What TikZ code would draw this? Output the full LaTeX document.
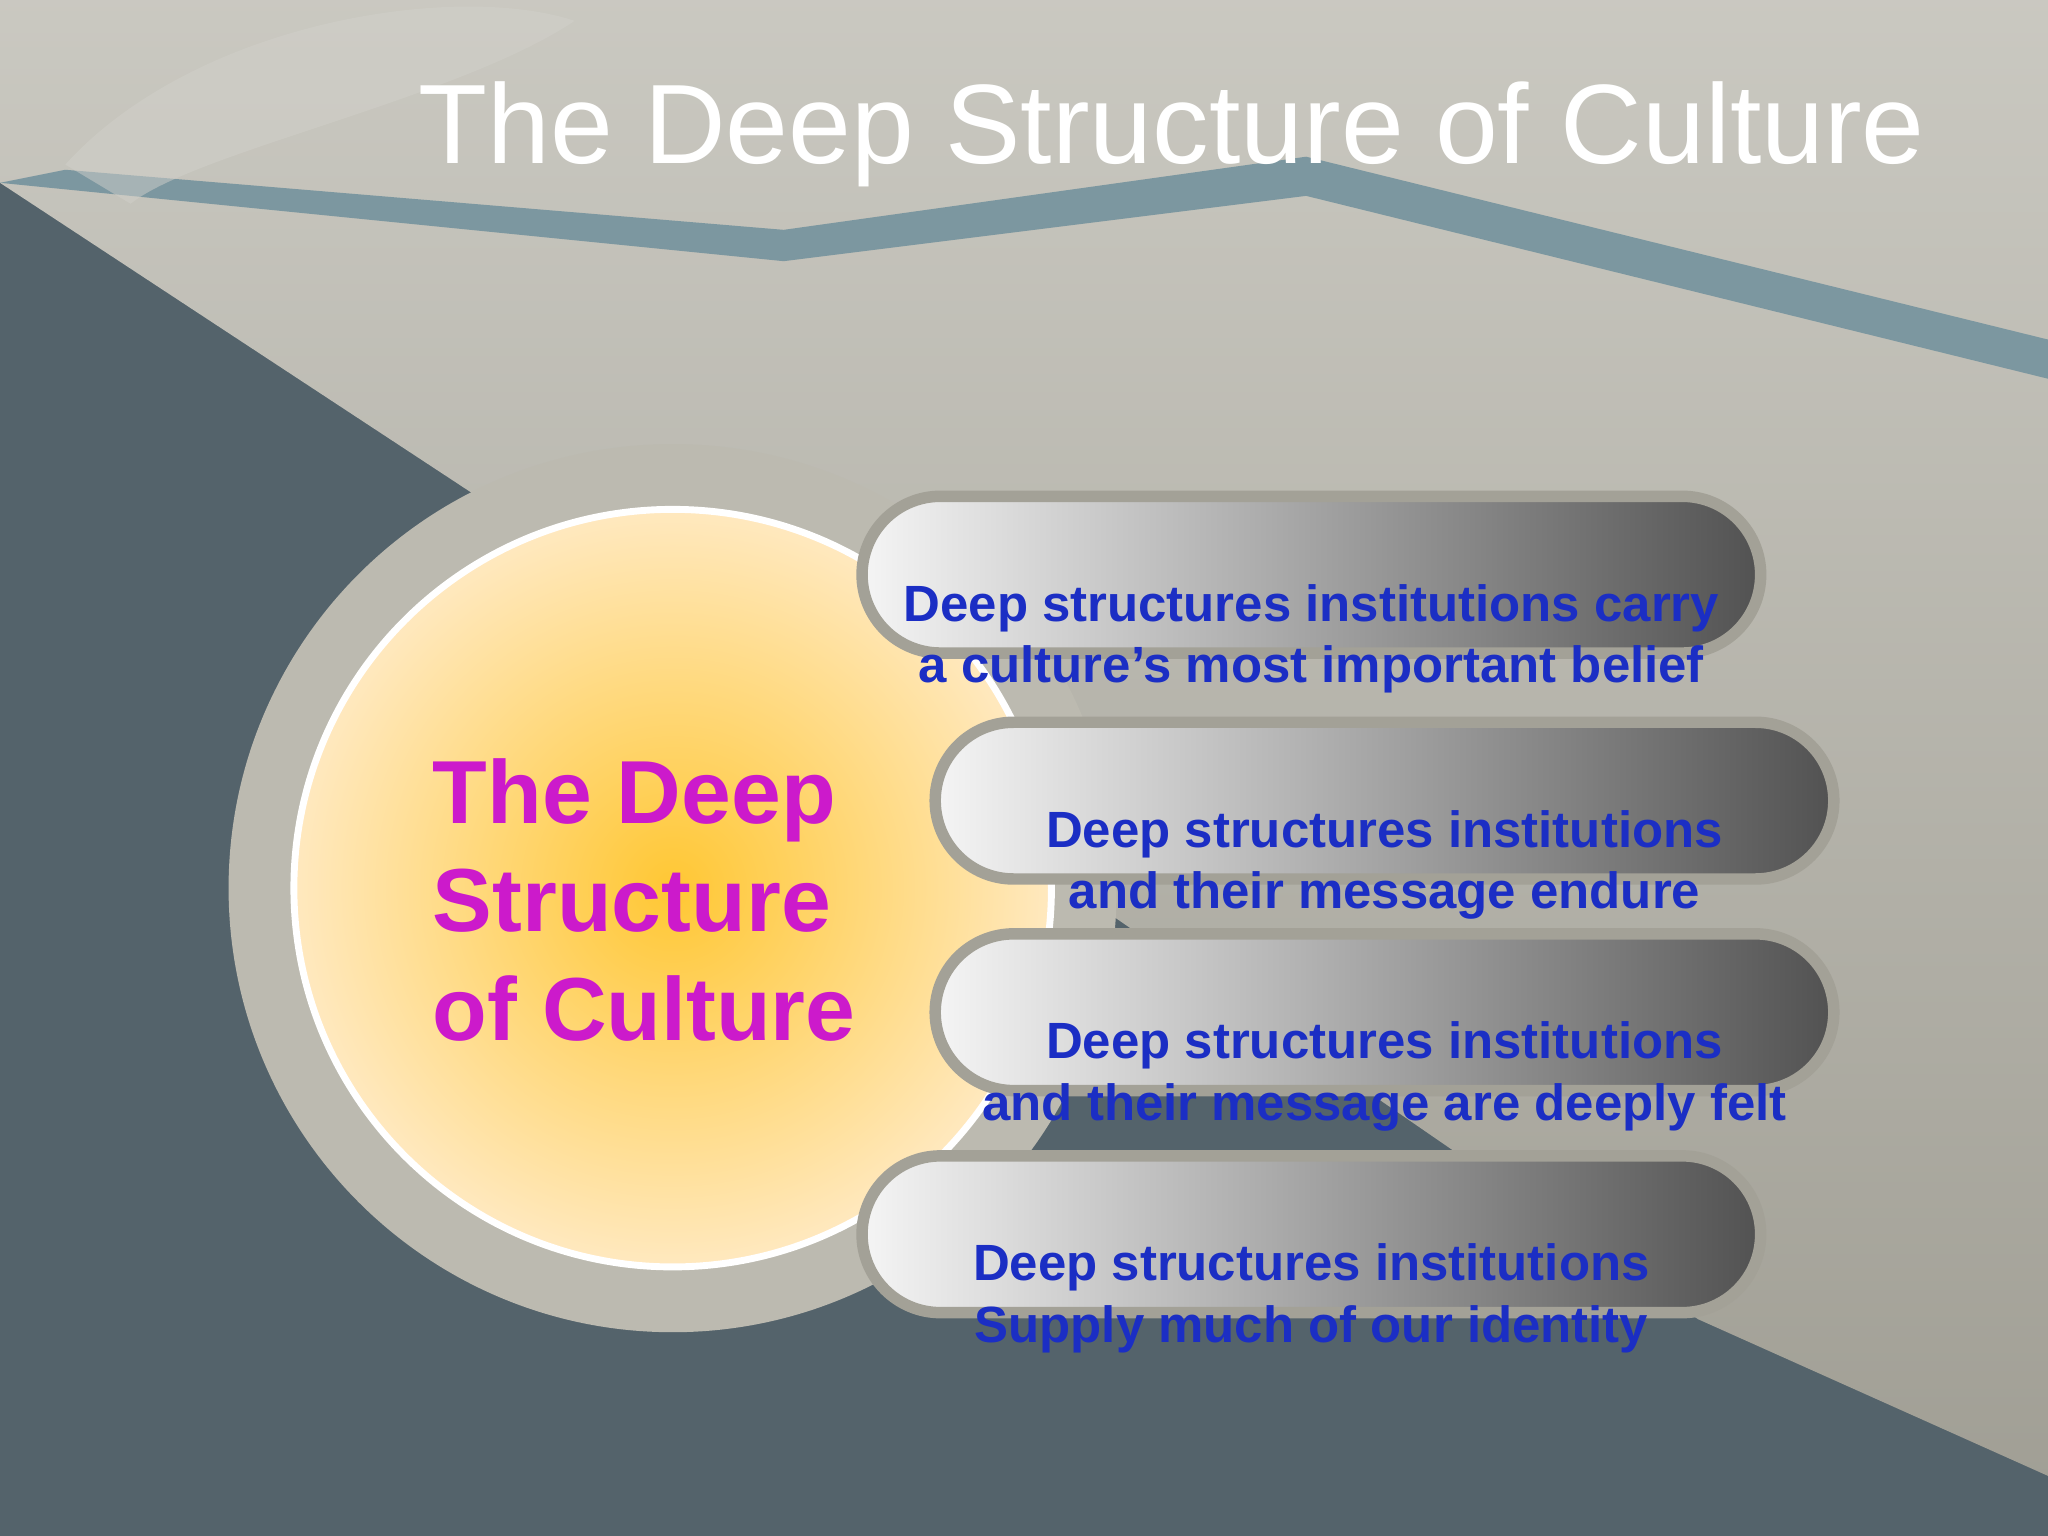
\documentclass[tikz,border=0pt]{standalone}
\usepackage{fontspec}
\setmainfont{Liberation Sans}
\usetikzlibrary{positioning}
\definecolor{slate}{HTML}{54636B}
\definecolor{sand}{HTML}{B3B1A6}
\definecolor{stripe}{HTML}{7C97A0}
\definecolor{ringgray}{HTML}{BCBAB0}
\definecolor{txtblue}{HTML}{1B2EC4}
\definecolor{txtmag}{HTML}{CC1ACB}
\definecolor{rimgray}{HTML}{A3A197}
\begin{document}
\begin{tikzpicture}[x=1cm,y=1cm,
  pill/.style={draw=rimgray, line width=2.5pt, rounded corners=0.6cm, left color=gray!8, right color=black!68,
    minimum width=6.88cm, minimum height=1.2cm, align=center, text=txtblue,
    font=\bfseries\fontsize{11.1}{13.4}\selectfont},
  ptext/.style={text=txtblue, align=center, font=\bfseries\fontsize{11.1}{13.4}\selectfont},
  ctitle/.style={text=txtmag, align=left, font=\bfseries\fontsize{19.5}{23.6}\selectfont}]
  \useasboundingbox (0,0) rectangle (15.68,11.76);
  % background
  \fill[slate] (0,0) rectangle (15.68,11.76);
  \shade[top color=sand!70!white, bottom color=sand!90!black]
    (0,11.76) -- (15.68,11.76) -- (15.68,0.46) -- (13.0,1.66) -- (8.5,4.76) -- (3.5,8.06) -- (0,10.36) -- cycle;
  \fill[stripe] (0,10.36) -- (6.0,9.76) -- (10.0,10.26) -- (15.68,8.86) -- (15.68,9.16) -- (10.0,10.56) -- (6.0,10.0) -- (0.5,10.46) -- cycle;
  \fill[sand!60!white, opacity=0.5] (0.5,10.5) .. controls (1.5,11.6) and (3.5,11.9) .. (4.4,11.6)
    .. controls (3.5,11.0) and (1.5,10.6) .. (1.0,10.2) -- cycle;
  % circle
  \fill[ringgray] (5.15,4.96) circle (3.4);
  \shade[inner color=orange!55!yellow!80, outer color=yellow!30!orange!25]
    (5.15,4.96) circle (2.9);
  \draw[white, line width=1.5pt] (5.15,4.96) circle (2.9);
  \node[ctitle, anchor=west] (core) at (3.19,4.87) {The Deep\\Structure\\of Culture};
  % pills
  \node[pill] (p1) at (10.04,7.36) {};
  \node[pill] (p2) at (10.60,5.63) {};
  \node[pill] (p3) at (10.60,4.01) {};
  \node[pill] (p4) at (10.04,2.31) {};
  \node[ptext, below=-0.05cm] at (p1) {Deep structures institutions carry\\a culture’s most important belief};
  \node[ptext, below=-0.05cm] at (p2) {Deep structures institutions\\and their message endure};
  \node[ptext, below=-0.05cm] at (p3) {Deep structures institutions\\and their message are deeply felt};
  \node[ptext, below=-0.05cm] at (p4) {Deep structures institutions\\Supply much of our identity};
  % title
  \node[text=white, font=\fontsize{24.6}{30}\selectfont, anchor=west] (title) at (3.08,10.73) {The Deep Structure of Culture};
\end{tikzpicture}
\end{document}
